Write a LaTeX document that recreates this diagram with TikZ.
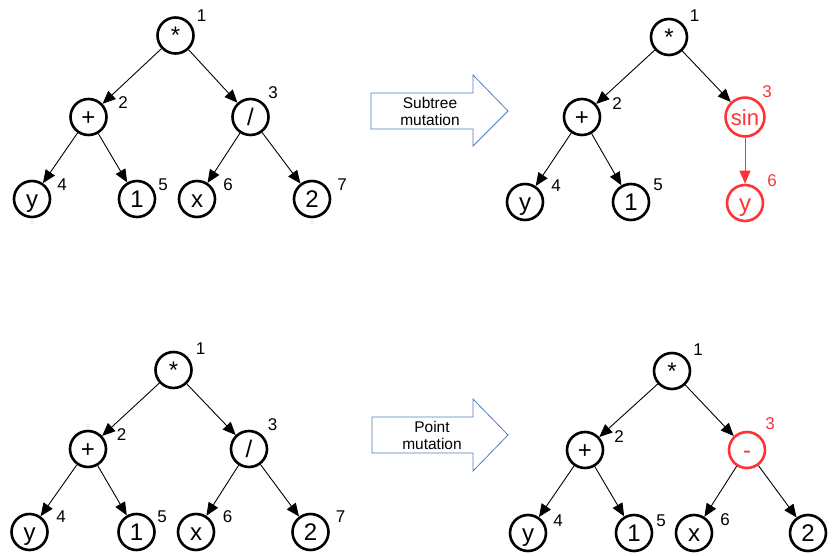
\documentclass[tikz,border=0pt]{standalone}
\usepackage{fontspec}
\setmainfont{Liberation Sans}
\usetikzlibrary{arrows.meta}
\definecolor{mutred}{HTML}{FF3333}
\definecolor{arrowblue}{HTML}{4F7EC0}
\begin{document}
\begin{tikzpicture}[x=1pt,y=-1pt,
  tnode/.style={circle,draw,line width=2.6pt,minimum size=36pt,inner sep=0pt,
    font=\fontsize{24}{28}\selectfont,text height=22pt,text depth=5pt},
  rednode/.style={tnode,draw=mutred,text=mutred},
  num/.style={inner sep=0pt,font=\fontsize{17}{19}\selectfont},
  rednum/.style={num,text=mutred},
  edge/.style={-{Triangle[length=13pt,width=11pt]},line width=0.9pt},
  rededge/.style={edge,draw=mutred,fill=mutred},
  bigarrow/.style={draw=arrowblue,line width=0.8pt,fill=white},
  arrowtext/.style={align=center,inner sep=0pt,font=\fontsize{15.5}{17}\selectfont}]
\useasboundingbox (0,0) rectangle (836,556);

% ---------- top-left tree ----------
\node[tnode] (a1) at (175.5,35.5) {*};
\node[tnode] (a2) at (88.5,117) {+};
\node[tnode] (a3) at (250.5,117) {/};
\node[tnode] (a4) at (32,199) {y};
\node[tnode] (a5) at (137,199) {1};
\node[tnode] (a6) at (197,199) {x};
\node[tnode] (a7) at (312,199) {2};
\node[num] (la1) at (201.5,15.5) {1};
\node[num] (la2) at (123,103) {2};
\node[num] (la3) at (273,93) {3};
\node[num] (la4) at (62,185) {4};
\node[num] (la5) at (163,185) {5};
\node[num] (la6) at (228,185) {6};
\node[num] (la7) at (342,185) {7};
\draw[edge] (a1) -- (a2);
\draw[edge] (a1) -- (a3);
\draw[edge] (a2) -- (a4);
\draw[edge] (a2) -- (a5);
\draw[edge] (a3) -- (a6);
\draw[edge] (a3) -- (a7);

% ---------- top arrow ----------
\draw[bigarrow] (371,93) -- (473,93) -- (473,75) -- (508,111) -- (473,146) -- (473,129) -- (371,129) -- cycle;
\node[arrowtext] (t1) at (430,111) {Subtree\\mutation};

% ---------- top-right tree ----------
\node[tnode] (b1) at (669,37) {*};
\node[tnode] (b2) at (582,117) {+};
\node[rednode,font=\fontsize{22}{26}\selectfont] (b3) at (745,117) {sin};
\node[tnode] (b4) at (525,202) {y};
\node[tnode] (b5) at (631,202) {1};
\node[rednode] (b6) at (745,203) {y};
\node[num] (lb1) at (694.5,16) {1};
\node[num] (lb2) at (617,103.5) {2};
\node[rednum] (lb3) at (767,92) {3};
\node[num] (lb4) at (556,186) {4};
\node[num] (lb5) at (658,185) {5};
\node[rednum] (lb6) at (772,181) {6};
\draw[edge] (b1) -- (b2);
\draw[edge] (b1) -- (b3);
\draw[edge] (b2) -- (b4);
\draw[edge] (b2) -- (b5);
\draw[rededge] (b3) -- (b6);

% ---------- bottom-left tree ----------
\node[tnode] (c1) at (173.5,370) {*};
\node[tnode] (c2) at (88,449) {+};
\node[tnode] (c3) at (249,449) {/};
\node[tnode] (c4) at (29.5,532) {y};
\node[tnode] (c5) at (136.5,532) {1};
\node[tnode] (c6) at (196,532) {x};
\node[tnode] (c7) at (310.5,532) {2};
\node[num] (lc1) at (200.5,348.5) {1};
\node[num] (lc2) at (121.5,435) {2};
\node[num] (lc3) at (272.5,425) {3};
\node[num] (lc4) at (61,516.5) {4};
\node[num] (lc5) at (162,516.5) {5};
\node[num] (lc6) at (227.5,516.5) {6};
\node[num] (lc7) at (340.5,516.5) {7};
\draw[edge] (c1) -- (c2);
\draw[edge] (c1) -- (c3);
\draw[edge] (c2) -- (c4);
\draw[edge] (c2) -- (c5);
\draw[edge] (c3) -- (c6);
\draw[edge] (c3) -- (c7);

% ---------- bottom arrow ----------
\draw[bigarrow] (372,417) -- (473,417) -- (473,399) -- (508,435) -- (473,471) -- (473,453) -- (372,453) -- cycle;
\node[arrowtext] (t2) at (432,435) {Point\\mutation};

% ---------- bottom-right tree ----------
\node[tnode] (d1) at (672,371) {*};
\node[tnode] (d2) at (585,450) {+};
\node[rednode] (d3) at (747,450) {-};
\node[tnode] (d4) at (528,533) {y};
\node[tnode] (d5) at (634,533) {1};
\node[tnode] (d6) at (694,533) {x};
\node[tnode] (d7) at (808,533) {2};
\node[num] (ld1) at (698,350) {1};
\node[num] (ld2) at (619,437) {2};
\node[rednum] (ld3) at (770,424) {3};
\node[num] (ld4) at (558,521) {4};
\node[num] (ld5) at (661,521) {5};
\node[num] (ld6) at (725,520) {6};
\draw[edge] (d1) -- (d2);
\draw[edge] (d1) -- (d3);
\draw[edge] (d2) -- (d4);
\draw[edge] (d2) -- (d5);
\draw[edge] (d3) -- (d6);
\draw[edge] (d3) -- (d7);
\end{tikzpicture}
\end{document}
